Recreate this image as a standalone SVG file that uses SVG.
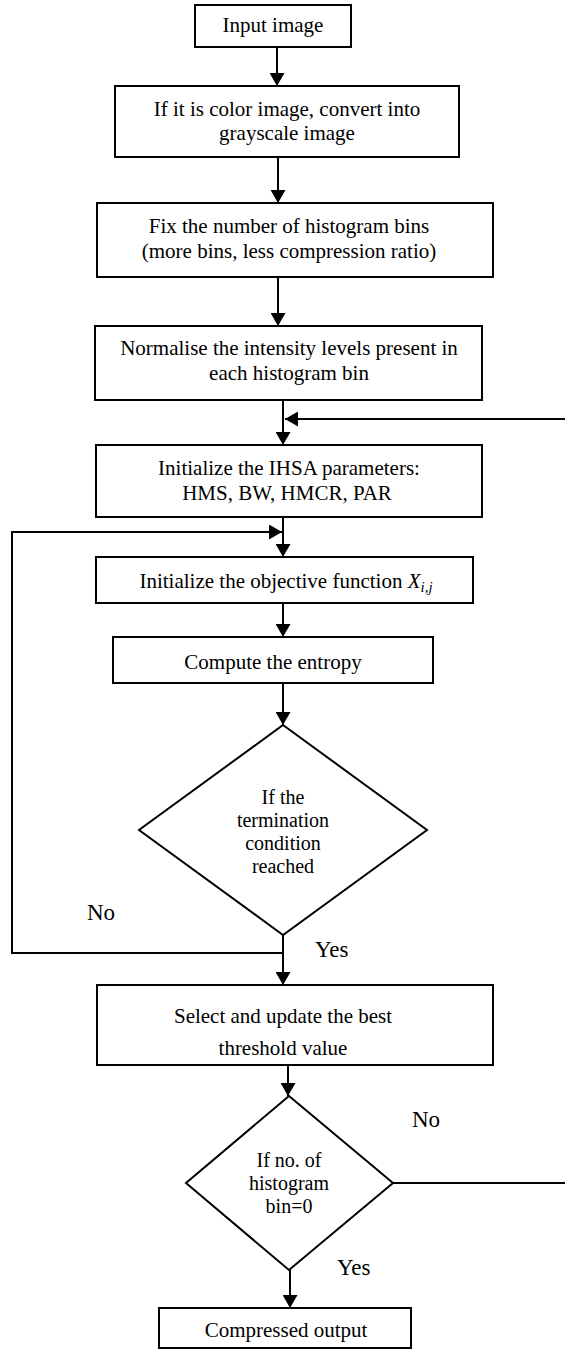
<svg xmlns="http://www.w3.org/2000/svg" width="565" height="1351" viewBox="0 0 565 1351">
<style>
.box{fill:#fff;stroke:#000;stroke-width:2}
.t{font-family:"Liberation Serif","Times New Roman",serif;font-size:21px;fill:#000;text-anchor:middle}
.d{font-size:20px}
.lbl{font-family:"Liberation Serif","Times New Roman",serif;font-size:23px;fill:#000}
.c{fill:none;stroke:#000;stroke-width:2}
</style>
<defs>
<marker id="ah" viewBox="0 0 13 15" refX="13" refY="7.5" markerWidth="13" markerHeight="15" markerUnits="userSpaceOnUse" orient="auto">
<path d="M0,0 L13,7.5 L0,15 Z" fill="#000"/>
</marker>
</defs>
<rect width="565" height="1351" fill="#fff"/>
<g id="connectors">
<line class="c" x1="277" y1="47" x2="277" y2="86" marker-end="url(#ah)"/>
<line class="c" x1="278" y1="157" x2="278" y2="203" marker-end="url(#ah)"/>
<line class="c" x1="278" y1="277" x2="278" y2="326" marker-end="url(#ah)"/>
<line class="c" x1="283" y1="400" x2="283" y2="445" marker-end="url(#ah)"/>
<line class="c" x1="283" y1="517" x2="283" y2="557" marker-end="url(#ah)"/>
<line class="c" x1="283" y1="603" x2="283" y2="637" marker-end="url(#ah)"/>
<line class="c" x1="283" y1="683" x2="283" y2="725" marker-end="url(#ah)"/>
<line class="c" x1="283" y1="935" x2="283" y2="985" marker-end="url(#ah)"/>
<line class="c" x1="288" y1="1065" x2="288" y2="1096" marker-end="url(#ah)"/>
<line class="c" x1="290" y1="1270" x2="290" y2="1308" marker-end="url(#ah)"/>
<path class="c" d="M283,953 H12 V532 H282" marker-end="url(#ah)"/>
<path class="c" d="M393,1183 H567 V419 H285" marker-end="url(#ah)"/>
</g>
<g id="n1">
<rect class="box" x="195" y="5" width="156" height="42"/>
<text class="t" x="273" y="32">Input image</text>
</g>
<g id="n2">
<rect class="box" x="115" y="86" width="344" height="71"/>
<text class="t" x="287" y="116">If it is color image, convert into</text>
<text class="t" x="287" y="140">grayscale image</text>
</g>
<g id="n3">
<rect class="box" x="97" y="203" width="396" height="74"/>
<text class="t" x="289" y="233">Fix the number of histogram bins</text>
<text class="t" x="289" y="258">(more bins, less compression ratio)</text>
</g>
<g id="n4">
<rect class="box" x="95" y="326" width="387" height="74"/>
<text class="t" x="289" y="355">Normalise the intensity levels present in</text>
<text class="t" x="289" y="380">each histogram bin</text>
</g>
<g id="n5">
<rect class="box" x="96" y="445" width="386" height="72"/>
<text class="t" x="289" y="475">Initialize the IHSA parameters:</text>
<text class="t" x="287" y="500">HMS, BW, HMCR, PAR</text>
</g>
<g id="n6">
<rect class="box" x="96" y="557" width="377" height="46"/>
<text class="t" x="286" y="588">Initialize the objective function <tspan font-style="italic">X</tspan><tspan font-style="italic" font-size="15" dy="4">i,j</tspan></text>
</g>
<g id="n7">
<rect class="box" x="113" y="637" width="320" height="46"/>
<text class="t" x="273" y="669">Compute the entropy</text>
</g>
<g id="n8">
<polygon class="box" points="283,725 427,830 283,935 139,830"/>
<text class="t d" x="283" y="804">If the</text>
<text class="t d" x="283" y="827">termination</text>
<text class="t d" x="283" y="850">condition</text>
<text class="t d" x="283" y="873">reached</text>
</g>
<g id="n9">
<rect class="box" x="97" y="985" width="396" height="80"/>
<text class="t" x="283" y="1023">Select and update the best</text>
<text class="t" x="283" y="1055">threshold value</text>
</g>
<g id="n10">
<polygon class="box" points="289,1096 393,1183 289,1270 186,1183"/>
<text class="t d" x="289" y="1167">If no. of</text>
<text class="t d" x="289" y="1190">histogram</text>
<text class="t d" x="289" y="1213">bin=0</text>
</g>
<g id="n11">
<rect class="box" x="159" y="1308" width="252" height="40"/>
<text class="t" x="286" y="1337">Compressed output</text>
</g>
<g id="labels">
<text class="lbl" x="87" y="920">No</text>
<text class="lbl" x="315" y="957">Yes</text>
<text class="lbl" x="412" y="1127">No</text>
<text class="lbl" x="337" y="1275">Yes</text>
</g>
</svg>
